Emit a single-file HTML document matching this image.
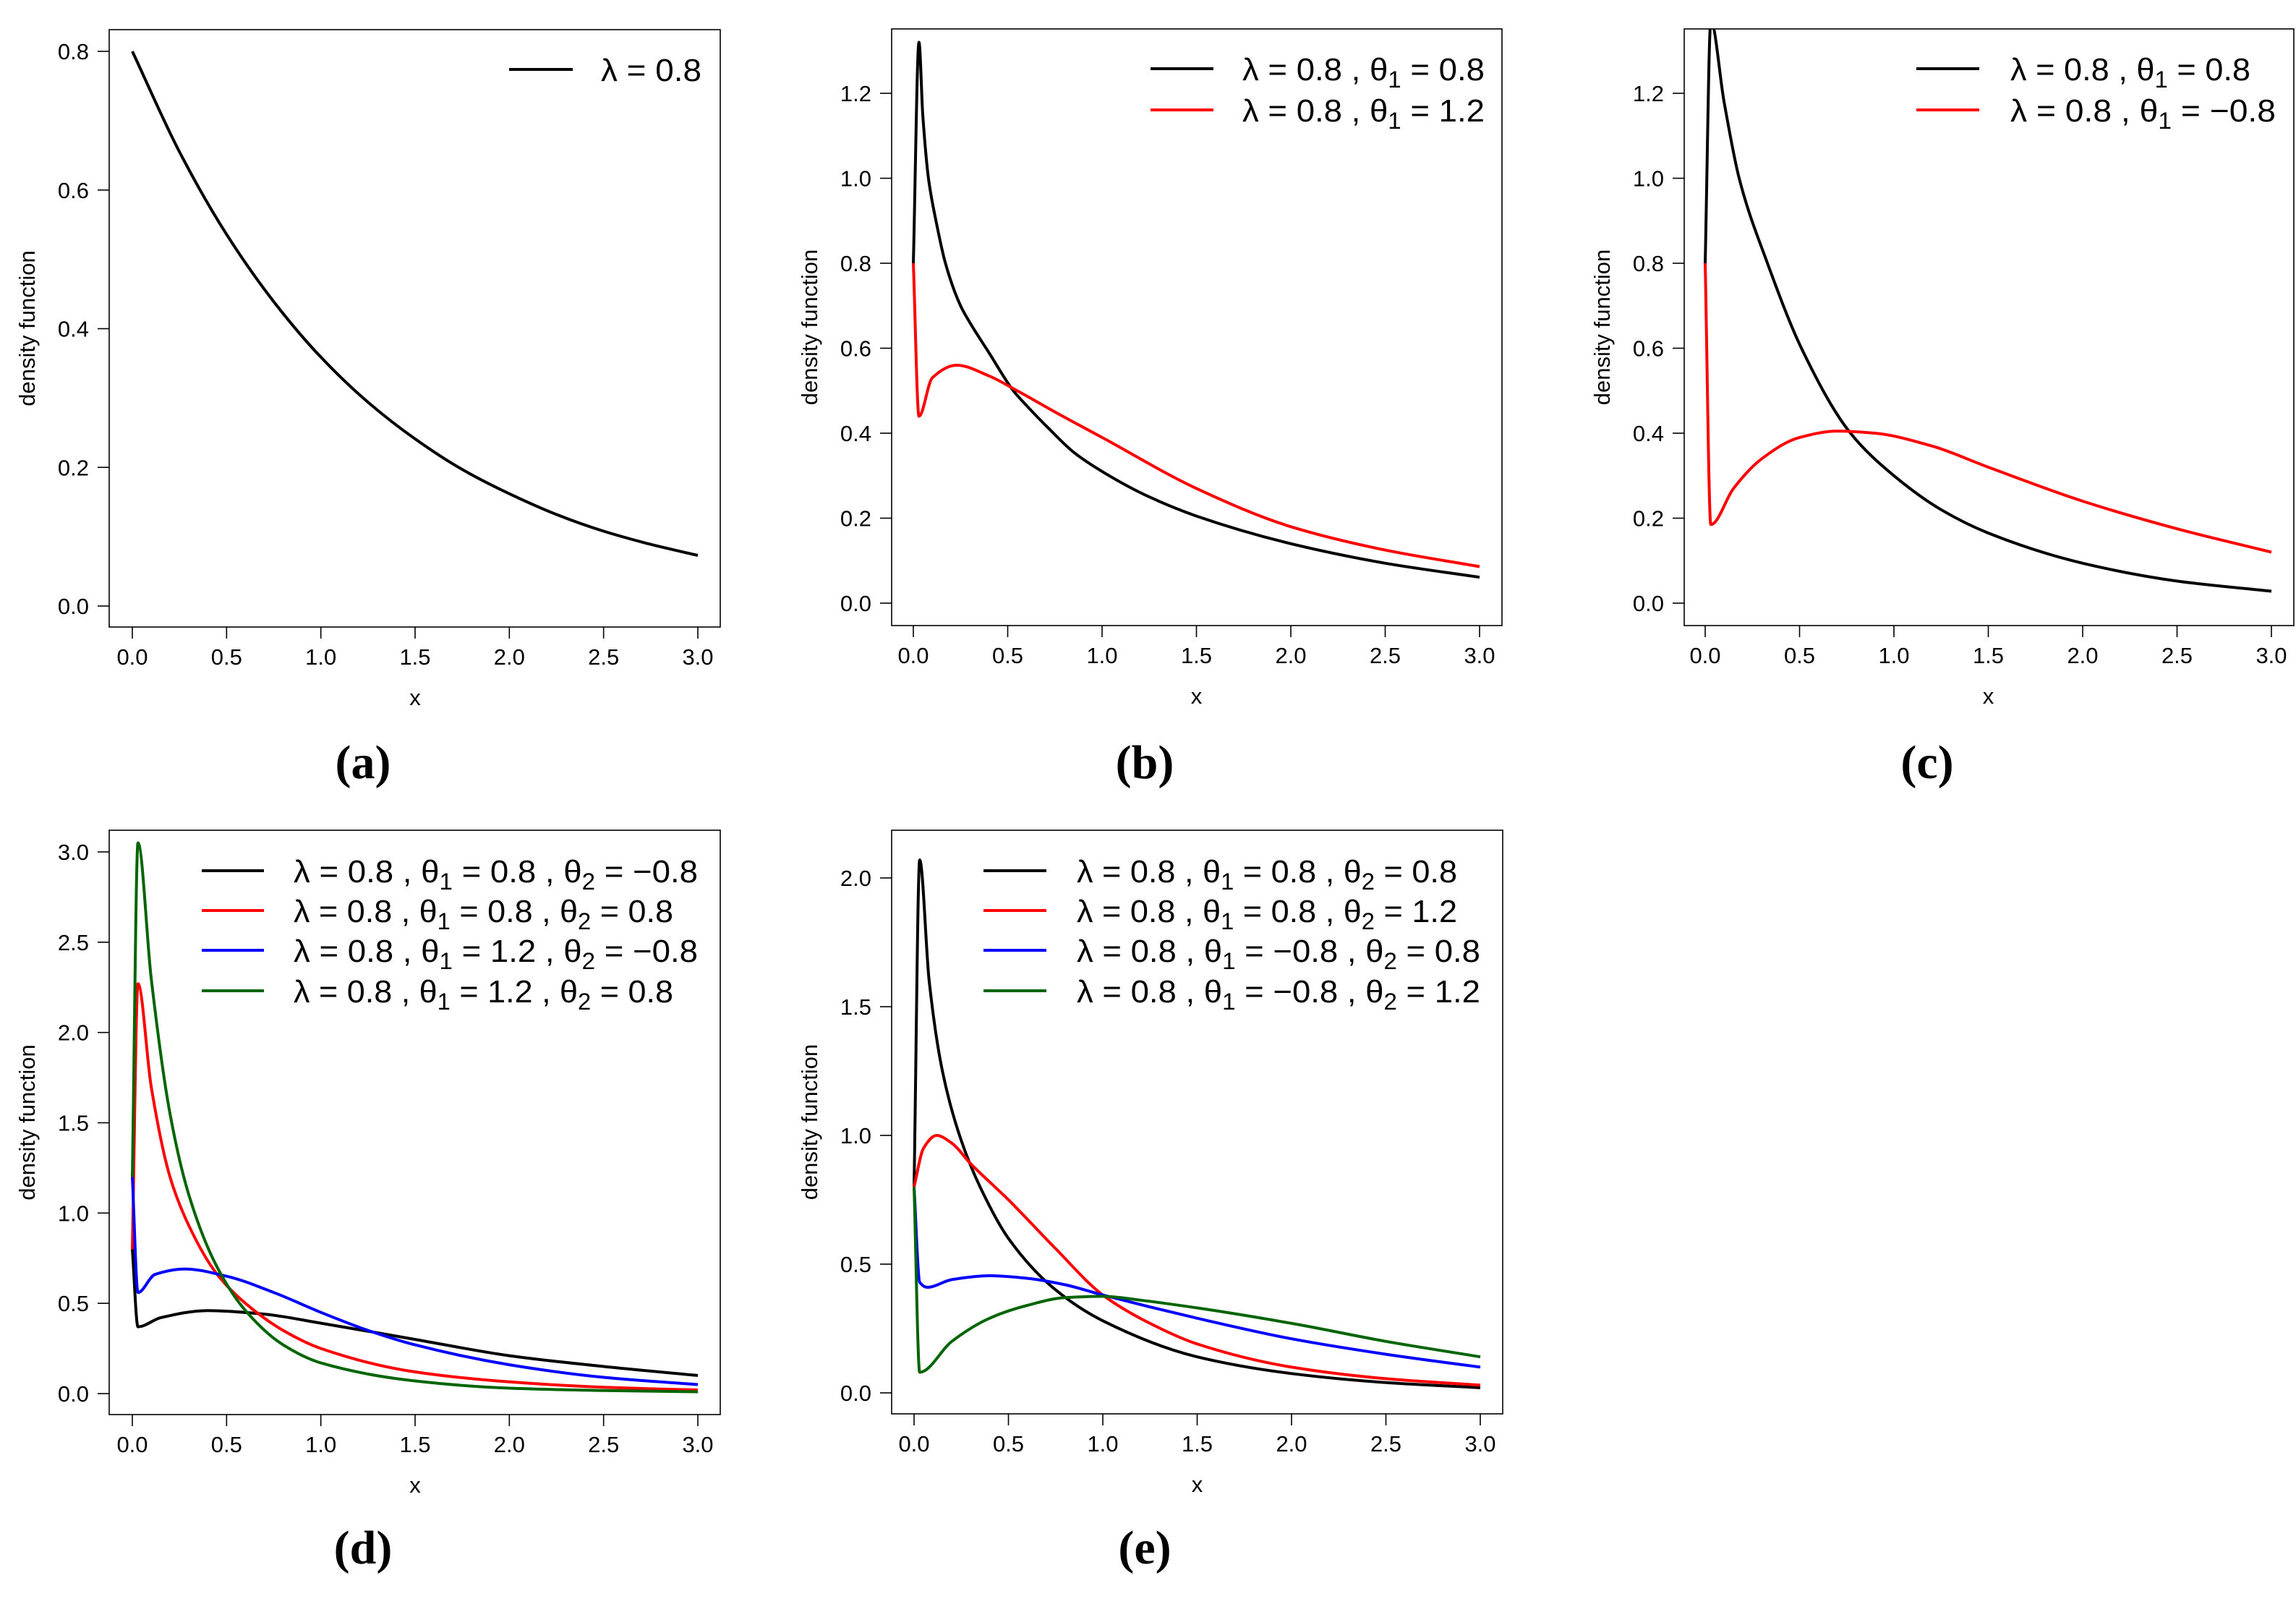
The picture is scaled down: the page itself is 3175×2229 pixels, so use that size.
<!DOCTYPE html>
<html><head><meta charset="utf-8"><style>
html,body{margin:0;padding:0;background:#fff;}
svg{display:block;font-family:"Liberation Sans",sans-serif;}
</style></head><body>
<svg id="fig" width="3175" height="2229" viewBox="0 0 3175 2229" xmlns="http://www.w3.org/2000/svg"></svg>
<script>
// ---------- data ----------
const aBlackX=[0,0.25,0.5,0.75,1.0,1.25,1.5,1.75,2.0,2.25,2.5,2.75,3.0];
const aBlackY=[0.8,0.655,0.536,0.439,0.359,0.294,0.241,0.197,0.162,0.132,0.108,0.089,0.073];

const bBlackX=[0,0.03,0.05,0.08,0.12,0.17,0.25,0.3,0.4,0.53,0.6,0.72,0.85,1.0,1.25,1.5,2.0,2.5,3.0];
const bBlackY=[0.8,1.32,1.15,1.0,0.9,0.8,0.70,0.66,0.59,0.5,0.465,0.41,0.355,0.31,0.25,0.205,0.14,0.094,0.061];
const bRedX=[0,0.03,0.1,0.23,0.4,0.55,0.75,1.0,1.5,2.0,2.5,3.0];
const bRedY=[0.8,0.44,0.53,0.56,0.535,0.5,0.45,0.39,0.27,0.18,0.125,0.086];

const cBlackX=[0,0.03,0.1,0.18,0.33,0.51,0.77,1.0,1.25,1.5,2.0,2.5,3.0];
const cBlackY=[0.8,1.37,1.18,1.0,0.8,0.6,0.4,0.3,0.22,0.165,0.094,0.052,0.028];
const cRedX=[0,0.03,0.15,0.3,0.5,0.7,0.9,1.2,1.5,2.0,2.5,3.0];
const cRedY=[0.8,0.185,0.27,0.34,0.39,0.405,0.4,0.37,0.32,0.24,0.175,0.12];

const dBlackX=[0,0.03,0.15,0.4,0.7,1.0,1.5,2.0,2.5,3.0];
const dBlackY=[0.8,0.37,0.42,0.46,0.44,0.39,0.30,0.21,0.15,0.10];
const dRedX=[0,0.03,0.1,0.2,0.3,0.45,0.6,0.8,1.0,1.5,2.0,2.5,3.0];
const dRedY=[0.8,2.27,1.7,1.2,0.93,0.66,0.5,0.35,0.25,0.12,0.065,0.035,0.02];
const dBlueX=[0,0.03,0.12,0.28,0.5,0.75,1.0,1.25,1.5,2.0,2.5,3.0];
const dBlueY=[1.2,0.56,0.66,0.69,0.65,0.56,0.45,0.35,0.27,0.16,0.09,0.05];
const dGreenX=[0,0.03,0.1,0.2,0.3,0.45,0.6,0.8,1.0,1.5,2.0,2.5,3.0];
const dGreenY=[1.2,3.05,2.3,1.55,1.1,0.7,0.46,0.27,0.17,0.07,0.03,0.017,0.01];

const eBlackX=[0,0.03,0.08,0.15,0.25,0.35,0.5,0.75,1.0,1.5,2.0,2.5,3.0];
const eBlackY=[0.8,2.07,1.6,1.25,0.98,0.8,0.6,0.4,0.28,0.14,0.075,0.04,0.02];
const eRedX=[0,0.05,0.12,0.2,0.3,0.5,0.75,1.0,1.25,1.5,2.0,2.5,3.0];
const eRedY=[0.8,0.95,1.0,0.97,0.89,0.75,0.56,0.38,0.27,0.19,0.1,0.055,0.03];
const eBlueX=[0,0.03,0.07,0.2,0.4,0.6,0.8,1.0,1.5,2.0,2.5,3.0];
const eBlueY=[0.8,0.43,0.41,0.44,0.455,0.445,0.42,0.38,0.29,0.21,0.15,0.1];
const eGreenX=[0,0.03,0.2,0.4,0.6,0.8,1.0,1.2,1.5,2.0,2.5,3.0];
const eGreenY=[0.8,0.08,0.2,0.29,0.34,0.37,0.375,0.36,0.33,0.27,0.2,0.14];

const xTicks=[0,0.5,1,1.5,2,2.5,3];
const xTickLabels=["0.0","0.5","1.0","1.5","2.0","2.5","3.0"];
const aYTicks=[0,0.2,0.4,0.6,0.8];
const bcYTicks=[0,0.2,0.4,0.6,0.8,1.0,1.2];
const dYTicks=[0,0.5,1,1.5,2,2.5,3];
const eYTicks=[0,0.5,1,1.5,2];

const NS="http://www.w3.org/2000/svg";
const svg=document.getElementById('fig');
function mk(tag,attrs,parent){const e=document.createElementNS(NS,tag);for(const k in attrs)e.setAttribute(k,attrs[k]);(parent||svg).appendChild(e);return e;}

// monotone cubic (Fritsch-Carlson) path through pixel points
function monoPath(P){
  const n=P.length;if(n<2)return '';
  const dx=[],dy=[],m=[];
  for(let i=0;i<n-1;i++){dx.push(P[i+1][0]-P[i][0]);dy.push(P[i+1][1]-P[i][1]);m.push(dy[i]/dx[i]);}
  const t=new Array(n);
  t[0]=m[0];t[n-1]=m[n-2];
  for(let i=1;i<n-1;i++){
    if(m[i-1]*m[i]<=0)t[i]=0;
    else{const w1=2*dx[i]+dx[i-1],w2=dx[i]+2*dx[i-1];t[i]=(w1+w2)/(w1/m[i-1]+w2/m[i]);}
  }
  let d=`M${P[0][0].toFixed(1)},${P[0][1].toFixed(1)}`;
  for(let i=0;i<n-1;i++){
    const h=dx[i]/3;
    d+=` C${(P[i][0]+h).toFixed(1)},${(P[i][1]+t[i]*h).toFixed(1)} ${(P[i+1][0]-h).toFixed(1)},${(P[i+1][1]-t[i+1]*h).toFixed(1)} ${P[i+1][0].toFixed(1)},${P[i+1][1].toFixed(1)}`;
  }
  return d;
}

function panel(cfg){
  const g=mk('g',{});
  
  
  const sx=v=>cfg.x0+(cfg.x3-cfg.x0)*v/3;
  const sy=v=>cfg.y0+(cfg.yTop-cfg.y0)*v/cfg.yTopVal;
  const cp=mk('clipPath',{id:'clip-'+cfg.id},g);
  mk('rect',{x:cfg.bl,y:cfg.bt,width:cfg.br-cfg.bl,height:cfg.bb-cfg.bt},cp);
  const box=mk('rect',{x:cfg.bl,y:cfg.bt,width:cfg.br-cfg.bl,height:cfg.bb-cfg.bt,fill:'none',stroke:'#000','stroke-width':1.6},g);
  
  
  xTicks.forEach((t,i)=>{
    const x=sx(t);
    const tk=mk('line',{x1:x,x2:x,y1:cfg.bb,y2:cfg.bb+16,stroke:'#000','stroke-width':1.6},g);
    
    
    const tl=mk('text',{x:x,y:cfg.bb+52,'font-size':31,'text-anchor':'middle'},g);
    tl.textContent=xTickLabels[i];
    
    
  });
  cfg.yTicks.forEach(t=>{
    const y=sy(t);
    const tk=mk('line',{x1:cfg.bl-16,x2:cfg.bl,y1:y,y2:y,stroke:'#000','stroke-width':1.6},g);
    
    
    const tl=mk('text',{x:cfg.bl-28,y:y+11,'font-size':31,'text-anchor':'end'},g);
    tl.textContent=t.toFixed(1);
    
    
  });
  const xt=mk('text',{x:(cfg.x0+cfg.x3)/2,y:cfg.bb+108,'font-size':31,'text-anchor':'middle'},g);
  xt.textContent='x';
  
  
  const ycx=cfg.bl-103, ycy=(cfg.bt+cfg.bb)/2;
  const yt=mk('text',{x:ycx,y:ycy,'font-size':31,'text-anchor':'middle',transform:`rotate(-90 ${ycx} ${ycy})`},g);
  yt.textContent='density function';
  
  
  cfg.series.forEach(s=>{
    const P=s.xs.map((v,i)=>[sx(v),sy(s.ys[i])]);
    const pl=mk('path',{d:monoPath(P),fill:'none',stroke:s.color,'stroke-width':4,'stroke-linejoin':'round','clip-path':`url(#clip-${cfg.id})`},g);
    
    
  });
  cfg.legend.forEach((L,i)=>{
    const y=cfg.legRows[i];
    const lg=mk('g',{},g);
    
    
    mk('line',{x1:cfg.legLine[0],x2:cfg.legLine[1],y1:y,y2:y,stroke:L.color,'stroke-width':4},lg);
    const t=mk('text',{x:cfg.legText,y:y+16,'font-size':44,textLength:L.w,lengthAdjust:'spacingAndGlyphs'},lg);
    t.innerHTML=L.html;
  });
  const pl=mk('text',{x:cfg.labX,y:cfg.labY,'font-size':66,'font-weight':'bold','text-anchor':'middle','font-family':'Liberation Serif, serif'},g);
  pl.textContent='('+cfg.id+')';
  
  
}
const sub=n=>`<tspan font-size="32" dy="10">${n}</tspan><tspan dy="-10"> </tspan>`;
const L1=(a)=>`λ = 0.8 , θ${sub(1)}= ${a}`;
const L2=(a,b)=>`λ = 0.8 , θ${sub(1)}= ${a} , θ${sub(2)}= ${b}`;

panel({id:'a',bl:151,br:996,bt:41,bb:867,x0:183,x3:965,y0:838,yTop:71,yTopVal:0.8,yTicks:aYTicks,
  series:[{name:'lambda-0.8',xs:aBlackX,ys:aBlackY,color:'#000'}],
  legRows:[96],legLine:[704,792],legText:831,
  legend:[{color:'#000',html:'λ = 0.8',w:139}],labX:502,labY:1076});
panel({id:'b',bl:1233,br:2077,bt:40,bb:865,x0:1263,x3:2046,y0:834,yTop:129,yTopVal:1.2,yTicks:bcYTicks,
  series:[{name:'theta1-0.8',xs:bBlackX,ys:bBlackY,color:'#000'},{name:'theta1-1.2',xs:bRedX,ys:bRedY,color:'#f00'}],
  legRows:[95,152],legLine:[1591,1678],legText:1718,
  legend:[{color:'#000',html:L1('0.8'),w:335},{color:'#f00',html:L1('1.2'),w:335}],labX:1583,labY:1076});
panel({id:'c',bl:2329,br:3172,bt:40,bb:865,x0:2358,x3:3141,y0:834,yTop:129,yTopVal:1.2,yTicks:bcYTicks,
  series:[{name:'theta1-0.8',xs:cBlackX,ys:cBlackY,color:'#000'},{name:'theta1-neg0.8',xs:cRedX,ys:cRedY,color:'#f00'}],
  legRows:[95,152],legLine:[2650,2737],legText:2780,
  legend:[{color:'#000',html:L1('0.8'),w:332},{color:'#f00',html:L1('−0.8'),w:367}],labX:2665,labY:1076});
panel({id:'d',bl:151,br:996,bt:1148,bb:1956,x0:183,x3:965,y0:1927,yTop:1178,yTopVal:3,yTicks:dYTicks,
  series:[{name:'black',xs:dBlackX,ys:dBlackY,color:'#000'},{name:'red',xs:dRedX,ys:dRedY,color:'#f00'},
          {name:'blue',xs:dBlueX,ys:dBlueY,color:'#00f'},{name:'green',xs:dGreenX,ys:dGreenY,color:'#006400'}],
  legRows:[1204,1259,1314,1370],legLine:[279,365],legText:406,
  legend:[{color:'#000',html:L2('0.8','−0.8'),w:559},{color:'#f00',html:L2('0.8','0.8'),w:525},
          {color:'#00f',html:L2('1.2','−0.8'),w:559},{color:'#006400',html:L2('1.2','0.8'),w:525}],labX:502,labY:2162});
panel({id:'e',bl:1233,br:2078,bt:1148,bb:1955,x0:1264,x3:2047,y0:1926,yTop:1214,yTopVal:2,yTicks:eYTicks,
  series:[{name:'black',xs:eBlackX,ys:eBlackY,color:'#000'},{name:'red',xs:eRedX,ys:eRedY,color:'#f00'},
          {name:'blue',xs:eBlueX,ys:eBlueY,color:'#00f'},{name:'green',xs:eGreenX,ys:eGreenY,color:'#006400'}],
  legRows:[1204,1259,1314,1370],legLine:[1360,1447],legText:1489,
  legend:[{color:'#000',html:L2('0.8','0.8'),w:526},{color:'#f00',html:L2('0.8','1.2'),w:526},
          {color:'#00f',html:L2('−0.8','0.8'),w:558},{color:'#006400',html:L2('−0.8','1.2'),w:558}],labX:1583,labY:2162});
</script>
</body></html>
